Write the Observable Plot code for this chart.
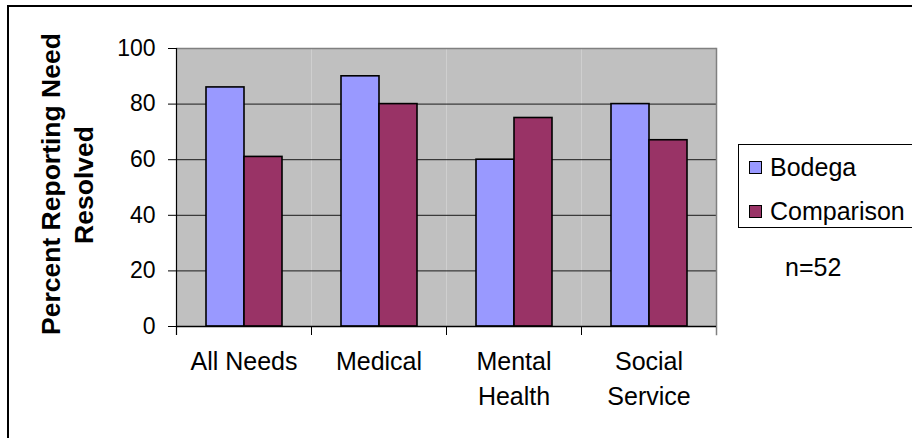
<!DOCTYPE html>
<html>
<head>
<meta charset="utf-8">
<script src="https://cdn.jsdelivr.net/npm/d3@7"></script>
<script src="https://cdn.jsdelivr.net/npm/@observablehq/plot@0.6"></script>
<style>
  html, body { margin: 0; padding: 0; }
  body { width: 912px; height: 438px; overflow: hidden; background: #fff; position: relative;
         font-family: "Liberation Sans", Arial, sans-serif; color: #000; }
  #chart { position: absolute; left: 0; top: 0; }
  .outer { position: absolute; left: 7px; top: 5px; width: 1000px; height: 1000px;
           border-left: 2px solid #000; border-top: 2px solid #000; }
  .ytitle { position: absolute; left: -82px; top: 152px; width: 300px; height: 66px;
            transform: rotate(-90deg); transform-origin: 50% 50%; text-align: center;
            font-weight: bold; font-size: 26.5px; line-height: 33px; white-space: nowrap; }
  .legend { position: absolute; left: 738px; top: 144px; width: 300px; height: 82px;
            border: 1.5px solid #000; background: #fff; }
  .item { position: absolute; left: 10px; height: 30px; line-height: 30px; font-size: 25px; white-space: nowrap; }
  .sw { display: inline-block; width: 11px; height: 11px; border: 1.5px solid #000; vertical-align: middle;
        margin-right: 8px; position: relative; top: -2px; }
  .note { position: absolute; left: 785px; top: 252px; height: 30px; line-height: 30px; font-size: 25px; }
</style>
</head>
<body>
<div id="chart"></div>
<div class="outer"></div>
<div class="ytitle">Percent Reporting Need<br>Resolved</div>
<div class="legend" id="legend"></div>
<div class="note" id="note"></div>
<script>
const categories = ["All Needs", "Medical", "Mental Health", "Social Service"];
const categoryLabels = ["All Needs", "Medical", "Mental\nHealth", "Social\nService"];
const series = ["Bodega", "Comparison"];
const bodega = [86, 90, 60, 80];
const comparison = [61, 80, 75, 67];
const yTicks = [0, 20, 40, 60, 80, 100];
const gridTicks = [20, 40, 60, 80];
const colors = ["#9999FF", "#993366"];
const noteText = "n=52";

const data = categories.flatMap((c, i) => [
  {category: c, series: series[0], value: bodega[i]},
  {category: c, series: series[1], value: comparison[i]}
]);
const labelOf = new Map(categories.map((c, i) => [c, categoryLabels[i]]));

const chart = Plot.plot({
  width: 912,
  height: 438,
  marginLeft: 176,
  marginRight: 196,
  marginTop: 48,
  marginBottom: 112,
  style: {fontFamily: "'Liberation Sans', Arial, sans-serif", fontSize: "23px", color: "#000", background: "transparent", overflow: "visible"},
  fx: {domain: categories, padding: 0, label: null},
  x: {domain: series, paddingInner: 0, paddingOuter: 0.75, axis: null},
  y: {domain: [0, 100], label: null},
  color: {domain: series, range: colors},
  marks: [
    Plot.frame({fill: "#c0c0c0", stroke: null}),
    Plot.gridY(gridTicks, {stroke: "#1a1a1a", strokeOpacity: 1, strokeWidth: 1}),
    Plot.ruleY([100], {stroke: "#808080", strokeWidth: 1.5}),
    Plot.barY(data, {fx: "category", x: "series", y: "value", fill: "series", stroke: "#000", strokeWidth: 1.6}),
    Plot.frame({anchor: "right", facetAnchor: "right", stroke: "#808080", strokeWidth: 1.5, insetBottom: -8}),
    Plot.frame({anchor: "left", stroke: "#000", strokeWidth: 1, insetTop: 278, insetBottom: -8}),
    Plot.frame({anchor: "left", facetAnchor: "left", stroke: "#000", strokeWidth: 1.2, insetBottom: -8}),
    Plot.ruleY([0], {stroke: "#000", strokeWidth: 1.5}),
    Plot.axisY(yTicks, {tickSize: 8, tickPadding: 13, label: null, fontSize: 23}),
    Plot.axisFx({anchor: "bottom", tickSize: 0, tickPadding: 19, label: null, fontSize: 25,
                 lineHeight: 1.4, tickFormat: d => labelOf.get(d)})
  ]
});
document.getElementById("chart").appendChild(chart);

const legend = document.getElementById("legend");
series.forEach((s, i) => {
  const item = document.createElement("div");
  item.className = "item";
  item.style.top = (i === 0 ? 7 : 51) + "px";
  const sw = document.createElement("span");
  sw.className = "sw";
  sw.style.background = colors[i];
  item.appendChild(sw);
  item.appendChild(document.createTextNode(s));
  legend.appendChild(item);
});
document.getElementById("note").textContent = noteText;
</script>
</body>
</html>
